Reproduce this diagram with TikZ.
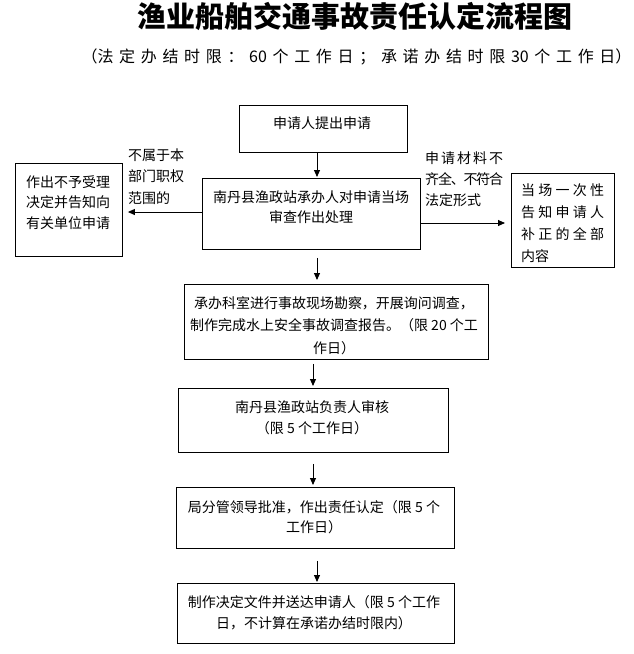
\documentclass[tikz,border=0pt]{standalone}
\usepackage{fontspec}
\setmainfont{Noto Sans CJK SC}
\usetikzlibrary{arrows.meta}
\newcommand\gp{\hspace{0pt plus 1fil minus 3pt}}
\begin{document}
\begin{tikzpicture}[x=1pt,y=-1pt,
  box/.style={draw, line width=0.9pt, inner sep=0pt, anchor=north west},
  txt/.style={inner sep=0pt, align=center, font=\fontsize{14}{21}\selectfont},
  ltxt/.style={inner sep=0pt, align=left, anchor=west, font=\fontsize{14}{21}\selectfont},
  arr/.style={line width=0.9pt, -{Triangle[length=7pt,width=6pt]}}]
\useasboundingbox (0,0) rectangle (633,654);
% title
\node[inner sep=0pt, font=\fontsize{29}{32}\selectfont\bfseries] (title) at (355,16) {渔业船舶交通事故责任认定流程图};
\node[inner sep=0pt, font=\fontsize{16}{20}\selectfont] (sub) at (356.5,57)
  {\makebox[550pt][s]{（法\gp 定\gp 办\gp 结\gp 时\gp 限\gp ：\gp 60\gp 个\gp 工\gp 作\gp 日\gp ；\gp 承\gp 诺\gp 办\gp 结\gp 时\gp 限\gp 30\gp 个\gp 工\gp 作\gp 日）}};
% boxes
\node[box, minimum width=168pt, minimum height=47pt] (b1) at (239,105) {};
\node[box, minimum width=218pt, minimum height=71pt] (b2) at (202,178) {};
\node[box, minimum width=107pt, minimum height=93pt] (bl) at (15,163) {};
\node[box, minimum width=103pt, minimum height=94pt] (br) at (511,173) {};
\node[box, minimum width=304pt, minimum height=75pt] (b3) at (184,284) {};
\node[box, minimum width=270pt, minimum height=64pt] (b4) at (178,388) {};
\node[box, minimum width=278pt, minimum height=61pt] (b5) at (176,487) {};
\node[box, minimum width=277pt, minimum height=60pt] (b6) at (177,583) {};
% texts
\node[txt] (t1) at (322,123) {申请人提出申请};
\node[txt, font=\fontsize{14}{20}\selectfont] (t2) at (311,207) {南丹县渔政站承办人对申请当场\\审查作出处理};
\node[ltxt, font=\fontsize{14}{20.5}\selectfont] (tl) at (26,202.5) {作出不予受理\\决定并告知向\\有关单位申请};
\node[ltxt, font=\fontsize{14}{22}\selectfont] (tr) at (521,223)
  {\makebox[83pt][s]{当\gp 场\gp 一\gp 次\gp 性}\\\makebox[83pt][s]{告\gp 知\gp 申\gp 请\gp 人}\\\makebox[83pt][s]{补\gp 正\gp 的\gp 全\gp 部}\\内容};
\node[ltxt, font=\fontsize{14}{21.5}\selectfont] (ll) at (128,176.5) {不属于本\\部门职权\\范围的};
\node[ltxt, font=\fontsize{14}{21}\selectfont] (lr) at (425,179)
  {\makebox[78pt][s]{申\gp 请\gp 材\gp 料\gp 不}\\\makebox[78pt][s]{齐\gp 全\gp 、\gp 不\gp 符\gp 合}\\法定形式};
\node[txt, font=\fontsize{14}{22.5}\selectfont] (t3) at (334,325.5)
  {承办科室进行事故现场勘察，开展询问调查，\\制作完成水上安全事故调查报告。（限 20 个工\\作日）};
\node[txt] (t4) at (312,417.5) {南丹县渔政站负责人审核\\（限 5 个工作日）};
\node[txt, font=\fontsize{14}{20}\selectfont] (t5) at (314,517) {局分管领导批准，作出责任认定（限 5 个\\工作日）};
\node[txt] (t6) at (314,612.5) {制作决定文件并送达申请人（限 5 个工作\\日，不计算在承诺办结时限内）};
% arrows
\coordinate (xa) at (317,0);
\coordinate (xb) at (313,0);
\coordinate (yl) at (0,212);
\coordinate (yr) at (0,223);
\draw[arr, shorten >=1pt] (b1.south -| xa) -- (b2.north -| xa);
\draw[arr, shorten >=5pt] (b2.west |- yl) -- (bl.east |- yl);
\draw[arr, shorten >=6pt] (b2.east |- yr) -- (br.west |- yr);
\draw[arr, shorten <=8pt, shorten >=4pt] (b2.south -| xa) -- (b3.north -| xa);
\draw[arr, shorten <=4pt, shorten >=2pt] (b3.south -| xb) -- (b4.north -| xb);
\draw[arr, shorten <=11pt, shorten >=2pt] (b4.south -| xb) -- (b5.north -| xb);
\draw[arr, shorten <=12pt, shorten >=1pt] (b5.south -| xa) -- (b6.north -| xa);
\end{tikzpicture}
\end{document}
